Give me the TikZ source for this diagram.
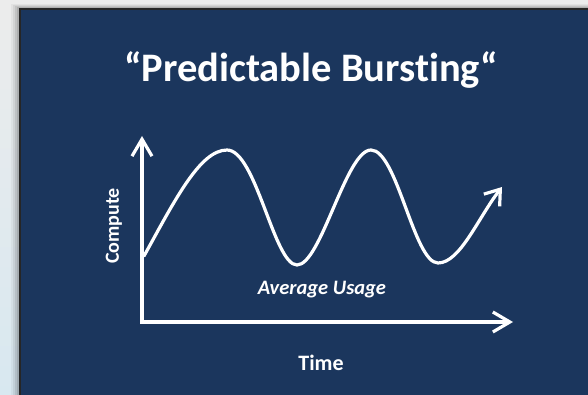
\documentclass[tikz,border=0pt]{standalone}
\usepackage{fontspec}
\setmainfont{Carlito}[Ligatures=NoCommon]
\usetikzlibrary{arrows.meta}
\definecolor{panel}{RGB}{27,54,93}
\definecolor{bgtop}{RGB}{236,236,236}
\definecolor{bgbot}{RGB}{216,232,240}
\tikzset{
  curve/.style={draw=white, line width=3.2pt, line cap=round, line join=round},
  axis/.style={draw=white, line width=3.2pt, line join=miter},
  lbl/.style={text=white, font=\bfseries, inner sep=0pt}
}
\begin{document}
\begin{tikzpicture}[x=1pt,y=-1pt]
\useasboundingbox (0,0) rectangle (588,395);
% background
\shade[top color=bgtop, bottom color=bgbot] (0,0) rectangle (588,395);
% soft shadow
\foreach \d/\o in {9/0.04,7/0.06,5/0.08,3/0.10,1.5/0.12}{
  \fill[black,opacity=\o] (20-\d,9-\d*0.6) rectangle (588,395);
}
% panel
\fill[panel] (20,9) rectangle (588,395);
\draw[black!85, line width=1.5pt] (20,396) -- (20,9) -- (589,9);
% axes
\coordinate (ytip) at (142,136);
\coordinate (origin) at (142,322);
\coordinate (xtip) at (513,322);
\draw[axis, {Straight Barb[length=17pt,width=20pt]}-{Straight Barb[length=17pt,width=20pt]}] (ytip) -- (origin) -- (xtip);
% curve
\coordinate (c0) at (144,256);
\coordinate (p1) at (227,150);
\coordinate (t1) at (297,265);
\coordinate (p2) at (371,150);
\coordinate (t2) at (438,263);
\coordinate (c5) at (502,187);
\draw[curve, -{Straight Barb[length=14pt,width=20pt]}] (c0)
  .. controls (175,200) and (200,150) .. (p1)
  .. controls (256,150) and (274,265) .. (t1)
  .. controls (321,265) and (346,150) .. (p2)
  .. controls (397,150) and (414,263) .. (t2)
  .. controls (460,263) and (478,218) .. (c5);
% labels
\node[lbl, font=\bfseries\fontsize{40.5}{44}\selectfont, anchor=base] (title) at (311,82) {“Predictable Bursting“};
\node[lbl, font=\bfseries\fontsize{20}{22}\selectfont, rotate=90] (ylab) at (114,226) {Compute};
\node[lbl, font=\bfseries\itshape\fontsize{20.5}{24}\selectfont, anchor=base] (avg) at (322,294) {Average Usage};
\node[lbl, font=\bfseries\fontsize{22}{26}\selectfont, anchor=base] (xlab) at (321,370) {Time};
\end{tikzpicture}
\end{document}
